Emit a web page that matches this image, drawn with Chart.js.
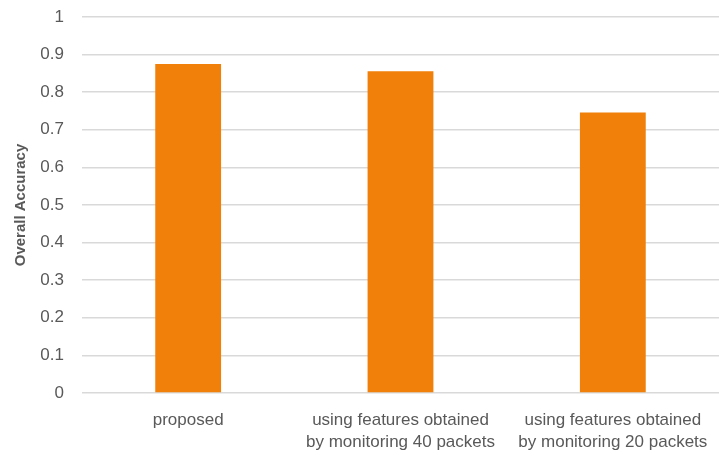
<!DOCTYPE html>
<html lang="en">
<head>
    <meta charset="UTF-8">
    <title>Overall Accuracy</title>
    <script src="https://cdn.jsdelivr.net/npm/chart.js"></script>
    <style>
        html, body { margin: 0; padding: 0; background: #fff; }
        #wrap { width: 719px; height: 459px; }
    </style>
</head>
<body>
<div id="wrap"><canvas id="mychart" width="719" height="459"></canvas></div>

<script>
    // chart data
    const categories = [
        ['proposed'],
        ['using features obtained', 'by monitoring 40 packets'],
        ['using features obtained', 'by monitoring 20 packets']
    ];
    const accuracy = [0.875, 0.856, 0.746];
    const yTicks = [0, 0.1, 0.2, 0.3, 0.4, 0.5, 0.6, 0.7, 0.8, 0.9, 1];

    const textColor = '#595959';
    const fontName = "'Liberation Sans', 'DejaVu Sans', sans-serif";

    const setting = {
        type: 'bar',
        data: {
            labels: categories,
            datasets: [{
                label: 'Overall Accuracy',
                data: accuracy,
                backgroundColor: '#F0800A',
                borderWidth: 0,
                categoryPercentage: 1,
                barPercentage: 0.31
            }]
        },
        options: {
            responsive: false,
            animation: false,
            layout: { padding: { top: 17, right: 0, bottom: 0, left: 12 } },
            plugins: {
                legend: { display: false },
                tooltip: { enabled: false }
            },
            scales: {
                x: {
                    grid: { display: false },
                    border: { display: false },
                    afterFit: (axis) => { axis.height = 66; },
                    ticks: {
                        color: textColor,
                        font: { family: fontName, size: 17, lineHeight: 1.25 },
                        maxRotation: 0,
                        autoSkip: false,
                        padding: 9
                    }
                },
                y: {
                    min: 0,
                    max: 1,
                    afterBuildTicks: (axis) => {
                        axis.ticks = yTicks.map(v => ({ value: v }));
                    },
                    afterFit: (axis) => { axis.width = 70; },
                    // invisible tick marks give the gap between labels and grid
                    grid: { color: '#d9d9d9', lineWidth: 1.5, drawTicks: true, tickLength: 18, tickColor: 'rgba(0,0,0,0)' },
                    border: { display: false },
                    ticks: {
                        color: textColor,
                        font: { family: fontName, size: 17, lineHeight: 1 },
                        padding: 0,
                        callback: (v) => String(Math.round(v * 10) / 10)
                    },
                    title: {
                        display: true,
                        text: 'Overall Accuracy',
                        color: textColor,
                        font: { family: fontName, size: 15, weight: 'bold' },
                        padding: { top: 0, bottom: 4 }
                    }
                }
            }
        }
    };

    new Chart(document.getElementById('mychart'), setting);
</script>
</body>
</html>
